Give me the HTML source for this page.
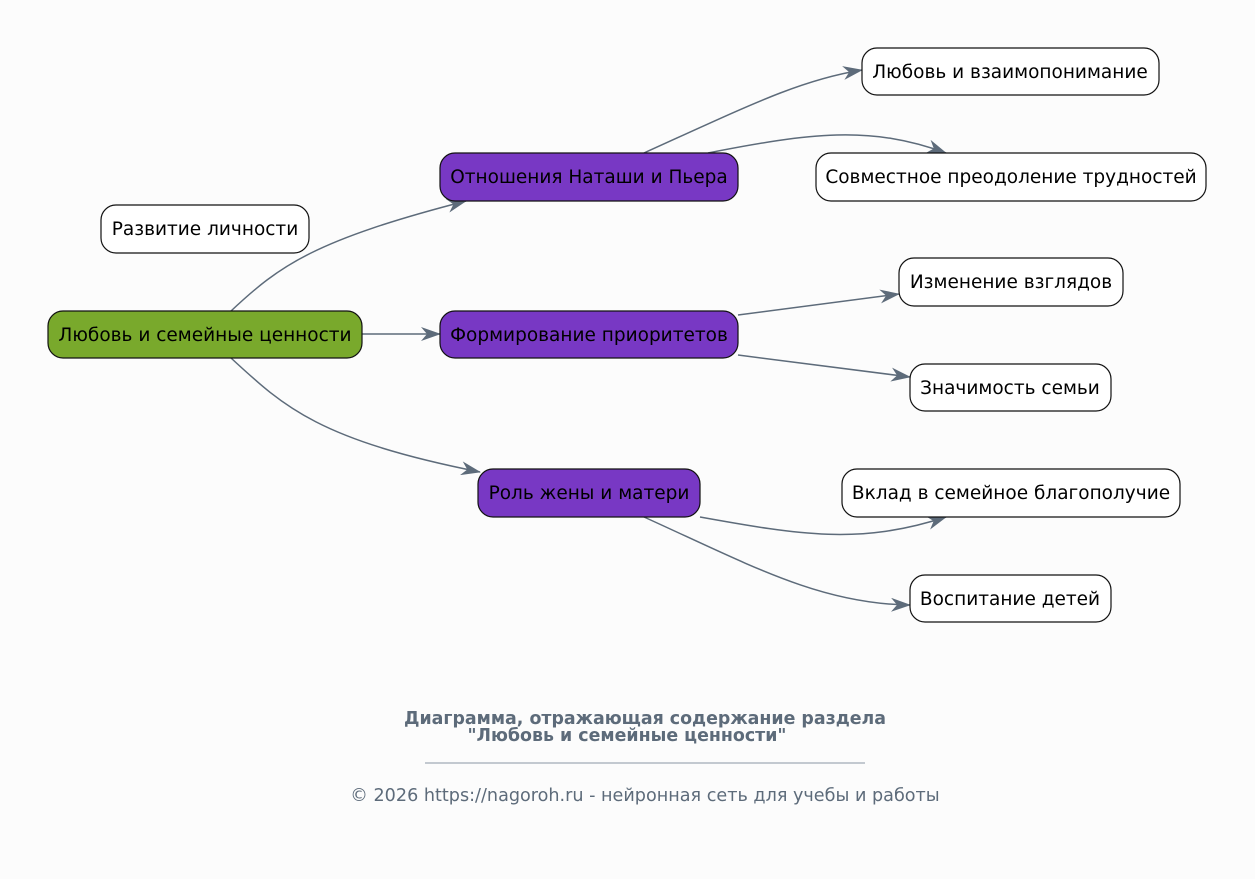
<!DOCTYPE html>
<html><head><meta charset="utf-8"><style>
html,body{margin:0;padding:0;background:#fcfcfc;}
svg{display:block;}
text{font-family:"DejaVu Sans","Liberation Sans",sans-serif;}
</style></head><body>
<svg width="1255" height="879" viewBox="0 0 1255 879" xmlns="http://www.w3.org/2000/svg">
<defs>
<marker id="a" viewBox="0 0 20 14" refX="19" refY="7" markerWidth="20" markerHeight="14" markerUnits="userSpaceOnUse" orient="auto">
<path d="M0,0 L20,7 L0,14 L6,7 z" fill="#5d6b7a"/>
</marker>
</defs>
<rect width="1255" height="879" fill="#fcfcfc"/>
<g fill="none" stroke="#5d6b7a" stroke-width="1.5" marker-end="url(#a)">
<path d="M231,311 C280,265 315,240 466,201"/>
<path d="M362,334 L440,334"/>
<path d="M231,358 C285,408 320,440 480,472"/>
<path d="M644,153 C750,105 800,80 862,70"/>
<path d="M708,153 C810,133 870,125 946,153"/>
<path d="M738,315 L899,294"/>
<path d="M738,355 L910,377"/>
<path d="M700,517 C800,535 860,545 946,517"/>
<path d="M644,517 C750,565 820,604 910,605"/>
</g>
<g stroke="#111" stroke-width="1.2">
<rect x="48" y="311" width="314" height="47" rx="15" fill="#79a92c"/>
<rect x="101" y="205" width="208" height="48" rx="15" fill="#fff"/>
<rect x="440" y="153" width="298" height="48" rx="15" fill="#7838c4"/>
<rect x="440" y="311" width="298" height="47" rx="15" fill="#7838c4"/>
<rect x="478" y="469" width="222" height="48" rx="15" fill="#7838c4"/>
<rect x="862" y="48" width="297" height="47" rx="15" fill="#fff"/>
<rect x="816" y="153" width="390" height="48" rx="15" fill="#fff"/>
<rect x="899" y="258" width="224" height="48" rx="15" fill="#fff"/>
<rect x="910" y="364" width="201" height="47" rx="15" fill="#fff"/>
<rect x="842" y="469" width="338" height="48" rx="15" fill="#fff"/>
<rect x="910" y="575" width="201" height="47" rx="15" fill="#fff"/>
</g>
<g font-size="18.5" fill="#000" text-anchor="middle">
<text x="205" y="341">Любовь и семейные ценности</text>
<text x="205" y="235">Развитие личности</text>
<text x="589" y="183">Отношения Наташи и Пьера</text>
<text x="589" y="341">Формирование приоритетов</text>
<text x="589" y="499">Роль жены и матери</text>
<text x="1010" y="78">Любовь и взаимопонимание</text>
<text x="1011" y="183">Совместное преодоление трудностей</text>
<text x="1011" y="288">Изменение взглядов</text>
<text x="1010" y="394">Значимость семьи</text>
<text x="1011" y="499">Вклад в семейное благополучие</text>
<text x="1010" y="605">Воспитание детей</text>
</g>
<g fill="#5d6b7a" text-anchor="middle">
<text x="645" y="724" font-size="17.4" font-weight="bold">Диаграмма, отражающая содержание раздела</text>
<text x="627" y="741" font-size="17.4" font-weight="bold">"Любовь и семейные ценности"</text>
<line x1="425" y1="763" x2="865" y2="763" stroke="#8a96a3" stroke-width="1"/>
<text x="645" y="801" font-size="17.6">© 2026 https://nagoroh.ru - нейронная сеть для учебы и работы</text>
</g>
</svg>
</body></html>
